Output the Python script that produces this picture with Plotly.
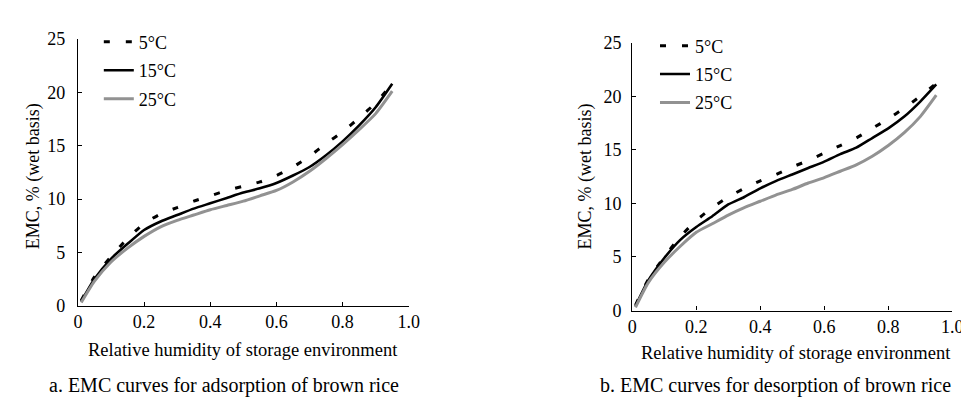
import plotly.graph_objects as go

rh = [0.01, 0.05, 0.10, 0.15, 0.20, 0.25, 0.30, 0.35, 0.40, 0.45, 0.50,
      0.55, 0.60, 0.65, 0.70, 0.75, 0.80, 0.85, 0.90, 0.95]

# a. adsorption
ads_5 = [0.5, 2.7, 4.6, 6.3, 7.7, 8.6, 9.2, 9.8, 10.3, 10.8, 11.2,
         11.6, 12.2, 13.0, 14.0, 15.2, 16.3, 17.6, 19.0, 20.8]
ads_15 = [0.4, 2.5, 4.4, 5.8, 7.1, 7.9, 8.5, 9.1, 9.6, 10.1, 10.6,
          11.0, 11.5, 12.2, 13.0, 14.1, 15.4, 16.9, 18.6, 20.8]
ads_25 = [0.3, 2.3, 4.1, 5.4, 6.5, 7.4, 8.0, 8.5, 9.0, 9.4, 9.8,
          10.3, 10.8, 11.6, 12.6, 13.8, 15.1, 16.5, 18.0, 20.1]

# b. desorption
des_5 = [0.5, 2.9, 5.0, 6.9, 8.4, 9.6, 10.6, 11.4, 12.1, 12.7, 13.4,
         14.0, 14.7, 15.4, 16.1, 17.0, 17.9, 18.9, 20.0, 21.2]
des_15 = [0.4, 2.8, 4.9, 6.6, 7.8, 8.8, 9.9, 10.6, 11.4, 12.1, 12.7,
          13.3, 13.9, 14.6, 15.2, 16.1, 17.0, 18.1, 19.5, 21.1]
des_25 = [0.3, 2.6, 4.5, 6.0, 7.3, 8.1, 8.9, 9.6, 10.2, 10.8, 11.3,
          11.9, 12.4, 13.0, 13.6, 14.4, 15.4, 16.6, 18.1, 20.1]

series_names = ["5°C", "15°C", "25°C"]
x_tickvals = [0, 0.2, 0.4, 0.6, 0.8, 1.0]
x_ticktext = ["0", "0.2", "0.4", "0.6", "0.8", "1.0"]
y_tickvals = [0, 5, 10, 15, 20, 25]
x_title = "Relative humidity of storage environment"
y_title = "EMC, % (wet basis)"
captions = ["a. EMC curves for adsorption of brown rice",
            "b. EMC curves for desorption of brown rice"]

FONT = "Liberation Serif"
styles = [
    dict(color="black", width=3, dash="6px,16px"),
    dict(color="black", width=2.6),
    dict(color="#929292", width=3),
]

fig = go.Figure()
panels = [(ads_5, ads_15, ads_25), (des_5, des_15, des_25)]
for p, data in enumerate(panels):
    xa = "x" if p == 0 else "x2"
    ya = "y" if p == 0 else "y2"
    lg = "legend" if p == 0 else "legend2"
    for i, vals in enumerate(data):
        fig.add_trace(go.Scatter(
            x=rh, y=vals, mode="lines", name=series_names[i],
            line=dict(shape="spline", smoothing=0.6, **styles[i]),
            xaxis=xa, yaxis=ya, legend=lg, legendgroup=f"g{p}{i}",
        ))

axis_common = dict(
    showline=True, linecolor="black", linewidth=1.2, showgrid=False,
    zeroline=False, ticks="inside", ticklen=4, tickcolor="black",
    tickfont=dict(family=FONT, size=18, color="black"),
)
fig.update_layout(
    width=969, height=398,
    margin=dict(l=0, r=0, t=0, b=0),
    plot_bgcolor="white", paper_bgcolor="white",
    font=dict(family=FONT, color="black"),
    xaxis=dict(domain=[0.0691, 0.4159], range=[0, 1.0], tickvals=x_tickvals,
               ticktext=x_ticktext, anchor="y", **axis_common),
    yaxis=dict(domain=[0.2387, 0.9447], range=[0, 25], tickvals=y_tickvals,
               anchor="x", ticklabelstandoff=8, **axis_common),
    xaxis2=dict(domain=[0.6502, 0.9856], range=[0, 1.0], tickvals=x_tickvals,
                ticktext=x_ticktext, anchor="y2", **axis_common),
    yaxis2=dict(domain=[0.2261, 0.9347], range=[0, 25], tickvals=y_tickvals,
                anchor="x2", ticklabelstandoff=6, **axis_common),
    legend=dict(x=0.091, y=0.985, xanchor="left", yanchor="top",
                bgcolor="rgba(0,0,0,0)", font=dict(family=FONT, size=18),
                tracegroupgap=2, traceorder="grouped"),
    legend2=dict(x=0.674, y=0.975, xanchor="left", yanchor="top",
                 bgcolor="rgba(0,0,0,0)", font=dict(family=FONT, size=18),
                 tracegroupgap=2, traceorder="grouped"),
    showlegend=True,
)

def note(x, y, text, size, angle=0):
    return dict(x=x / 969, y=1 - y / 398, xref="paper", yref="paper",
                xanchor="center", yanchor="middle", text=text,
                showarrow=False, textangle=angle,
                font=dict(family=FONT, size=size, color="black"))

ann = [
    note(235, 350, x_title, 18.5),
    note(796, 353, x_title, 18.5),
    note(22, 167, y_title, 18),
    note(583, 167, y_title, 18, -90),
    note(215, 387, captions[0], 20),
    note(776, 387, captions[1], 20),
]
ann[2]["textangle"] = -90
fig.update_layout(annotations=ann)

fig.write_html("out.html")
